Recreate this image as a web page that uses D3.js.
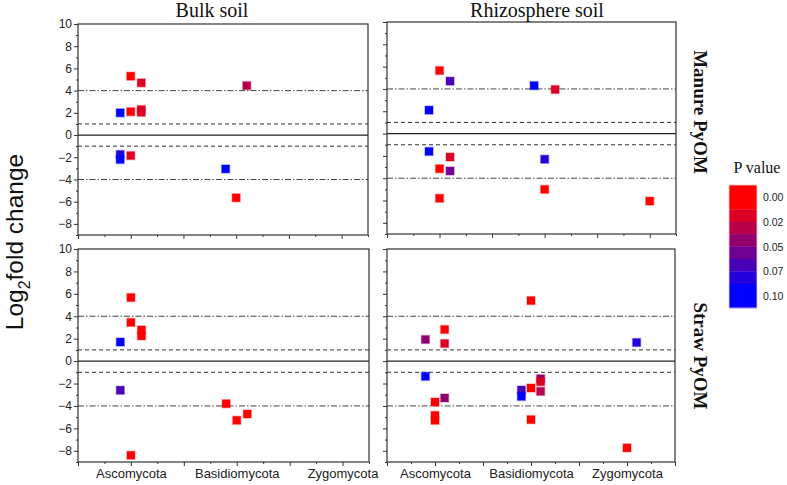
<!DOCTYPE html>
<html><head><meta charset="utf-8">
<script src="https://cdn.jsdelivr.net/npm/d3@7/dist/d3.min.js"></script>
<style>
body{margin:0;background:#fff;}
svg{display:block;}
</style></head>
<body>
<svg id="chart" width="787" height="485"></svg>
<script>
// ---------- DATA ----------
const categories = ["Ascomycota", "Basidiomycota", "Zygomycota"];
const soilTypes = ["Bulk soil", "Rhizosphere soil"];
const amendments = ["Manure PyOM", "Straw PyOM"];
const yMajorTicks = [10, 8, 6, 4, 2, 0, -2, -4, -6, -8];
const yMinorTicks = [9, 7, 5, 3, 1, -1, -3, -5, -7, -9];
const refDashed = [1, -1];
const refDashDot = [4, -4];
const pLegendLabels = ["0.00", "0.02", "0.05", "0.07", "0.10"];
const pColors = ["#ff0000", "#db0024", "#b60049", "#92006d", "#6d0092", "#4900b6", "#2400db", "#0000ff"];

// [category, subgroup (0,1,2), log2 fold change, P value]
const bulkManure = [
  ["Ascomycota", 0, 2.0, 0.1],
  ["Ascomycota", 0, -1.75, 0.085],
  ["Ascomycota", 0, -2.2, 0.1],
  ["Ascomycota", 1, 5.3, 0],
  ["Ascomycota", 1, 2.1, 0],
  ["Ascomycota", 1, -1.85, 0.015],
  ["Ascomycota", 2, 4.7, 0.015],
  ["Ascomycota", 2, 2.3, 0.015],
  ["Ascomycota", 2, 2.05, 0.015],
  ["Basidiomycota", 0, -3.05, 0.1],
  ["Basidiomycota", 1, -5.65, 0],
  ["Basidiomycota", 2, 4.45, 0.03]
];
const rhizoManure = [
  ["Ascomycota", 0, 2.1, 0.1],
  ["Ascomycota", 0, -1.6, 0.1],
  ["Ascomycota", 1, 5.65, 0],
  ["Ascomycota", 1, -3.15, 0],
  ["Ascomycota", 1, -5.8, 0],
  ["Ascomycota", 2, 4.7, 0.07],
  ["Ascomycota", 2, -2.1, 0.015],
  ["Ascomycota", 2, -3.35, 0.055],
  ["Basidiomycota", 0, 4.3, 0.1],
  ["Basidiomycota", 1, -2.3, 0.085],
  ["Basidiomycota", 1, -5.0, 0],
  ["Basidiomycota", 2, 3.95, 0.015],
  ["Zygomycota", 1, -6.05, 0]
];
const bulkStraw = [
  ["Ascomycota", 0, 1.7, 0.1],
  ["Ascomycota", 0, -2.6, 0.07],
  ["Ascomycota", 1, 5.67, 0],
  ["Ascomycota", 1, 3.45, 0],
  ["Ascomycota", 1, -8.4, 0],
  ["Ascomycota", 2, 2.78, 0],
  ["Ascomycota", 2, 2.25, 0],
  ["Basidiomycota", 0, -3.8, 0],
  ["Basidiomycota", 1, -5.28, 0],
  ["Basidiomycota", 2, -4.72, 0]
];
const rhizoStraw = [
  ["Ascomycota", 0, 1.93, 0.045],
  ["Ascomycota", 0, -1.36, 0.1],
  ["Ascomycota", 1, -3.65, 0],
  ["Ascomycota", 1, -4.84, 0],
  ["Ascomycota", 1, -5.28, 0],
  ["Ascomycota", 2, 2.82, 0],
  ["Ascomycota", 2, 1.57, 0.015],
  ["Ascomycota", 2, -3.29, 0.04],
  ["Basidiomycota", 0, -2.58, 0.07],
  ["Basidiomycota", 0, -3.15, 0.095],
  ["Basidiomycota", 1, 5.4, 0],
  ["Basidiomycota", 1, -2.4, 0],
  ["Basidiomycota", 1, -5.22, 0],
  ["Basidiomycota", 2, -1.57, 0.045],
  ["Basidiomycota", 2, -1.84, 0.015],
  ["Basidiomycota", 2, -2.70, 0.03],
  ["Zygomycota", 1, -7.74, 0],
  ["Zygomycota", 2, 1.66, 0.085]
];

// ---------- DRAW ----------
const svg = d3.select("#chart");
const sans = "'Liberation Sans', Arial, sans-serif";
const serif = "'Liberation Serif', 'Times New Roman', serif";
const color = d3.scaleQuantize().domain([0, 0.1]).range(pColors);

const panels = [
  {data: bulkManure, x0: 78, x1: 368, y0: 24, y1: 235, xMax: 5.5, yLab: true, xLab: false},
  {data: rhizoManure, x0: 387, x1: 676, y0: 22, y1: 234, xMax: 5.5, yLab: false, xLab: false},
  {data: bulkStraw, x0: 78, x1: 369, y0: 249, y1: 462, xMax: 5.5, yLab: true, xLab: true},
  {data: rhizoStraw, x0: 387, x1: 675, y0: 249, y1: 462, xMax: 6, yLab: false, xLab: true}
];

panels.forEach(p => {
  const x = d3.scaleLinear().domain([0, p.xMax]).range([p.x0, p.x1]);
  const y = d3.scaleLinear().domain([-9, 10]).range([p.y1, p.y0]);
  const g = svg.append("g");

  // reference lines
  g.selectAll(".dash").data(refDashed).join("line")
    .attr("x1", p.x0).attr("x2", p.x1).attr("y1", d => y(d)).attr("y2", d => y(d))
    .attr("stroke", "#333").attr("stroke-width", 1).attr("stroke-dasharray", "4,3");
  g.selectAll(".dashdot").data(refDashDot).join("line")
    .attr("x1", p.x0).attr("x2", p.x1).attr("y1", d => y(d)).attr("y2", d => y(d))
    .attr("stroke", "#444").attr("stroke-width", 1).attr("stroke-dasharray", "6,2,1.5,2");
  g.append("line").attr("x1", p.x0).attr("x2", p.x1).attr("y1", y(0)).attr("y2", y(0))
    .attr("stroke", "#222").attr("stroke-width", 1.3);

  // y axis
  const yMaj = d3.axisLeft(y).tickValues(yMajorTicks).tickSize(4).tickPadding(2)
    .tickFormat(p.yLab ? d3.format("d") : () => "");
  const ya = g.append("g").attr("transform", `translate(${p.x0},0)`).call(yMaj);
  const yMin = d3.axisLeft(y).tickValues(yMinorTicks).tickSize(2).tickFormat(() => "");
  const ym = g.append("g").attr("transform", `translate(${p.x0},0)`).call(yMin);

  // x axis
  const xInts = d3.range(0, Math.floor(p.xMax) + 1);
  const xHalves = d3.range(0.5, p.xMax + 0.01, 1);
  const xMaj = d3.axisBottom(x).tickValues(xInts).tickSize(4).tickPadding(3)
    .tickFormat(d => (p.xLab && d % 2 === 1) ? categories[(d - 1) / 2] : "");
  const xa = g.append("g").attr("transform", `translate(0,${p.y1})`).call(xMaj);
  const xMin = d3.axisBottom(x).tickValues(xHalves).tickSize(2).tickFormat(() => "");
  const xm = g.append("g").attr("transform", `translate(0,${p.y1})`).call(xMin);

  [ya, ym, xa, xm].forEach(a => {
    a.select(".domain").remove();
    a.selectAll("line").attr("stroke", "#333");
  });
  ya.selectAll("text").attr("font-family", sans).attr("font-size", 12).attr("fill", "#222");
  xa.selectAll("text").attr("font-family", sans).attr("font-size", 13).attr("fill", "#222");

  // frame
  g.append("rect").attr("x", p.x0).attr("y", p.y0)
    .attr("width", p.x1 - p.x0).attr("height", p.y1 - p.y0)
    .attr("fill", "none").attr("stroke", "#333").attr("stroke-width", 1.2);

  // points
  const s = 8;
  g.selectAll(".pt").data(p.data).join("rect")
    .attr("x", d => x(categories.indexOf(d[0]) * 2 + 1 + (d[1] - 1) * 0.2) - s / 2)
    .attr("y", d => y(d[2]) - s / 2)
    .attr("width", s).attr("height", s)
    .attr("fill", d => color(d[3]))
    .attr("stroke", d => color(d[3])).attr("stroke-opacity", 0.3).attr("stroke-width", 1.5);
});

// column titles
svg.selectAll(".coltitle").data(soilTypes).join("text")
  .attr("x", (d, i) => i === 0 ? 212 : 537).attr("y", 17)
  .attr("text-anchor", "middle").attr("font-family", serif).attr("font-size", 20)
  .attr("fill", "#111").text(d => d);

// row titles (rotated)
svg.selectAll(".rowtitle").data(amendments).join("text")
  .attr("transform", (d, i) => `translate(700,${i === 0 ? 112 : 356}) rotate(90)`)
  .attr("text-anchor", "middle").attr("dominant-baseline", "central")
  .attr("font-family", serif).attr("font-weight", "bold").attr("font-size", 19)
  .attr("fill", "#111").text(d => d);

// y axis title
const yt = svg.append("text")
  .attr("transform", "translate(23,242) rotate(-90)")
  .attr("text-anchor", "middle").attr("font-family", sans).attr("font-size", 24.5).attr("fill", "#111");
yt.append("tspan").text("Log");
yt.append("tspan").attr("font-size", 16).attr("dy", 7).text("2");
yt.append("tspan").attr("dy", -7).text("fold change");

// legend
const lg = svg.append("g");
lg.append("text").attr("x", 757).attr("y", 173).attr("text-anchor", "middle")
  .attr("font-family", serif).attr("font-size", 16).attr("fill", "#111").text("P value");
const legTop = 185, legBot = 308, endH = 24.3;
const bandH = (legBot - legTop - 2 * endH) / (pColors.length - 2);
const bandY = i => i === 0 ? legTop : legTop + endH + (i - 1) * bandH;
const bandHt = i => (i === 0 || i === pColors.length - 1) ? endH : bandH;
lg.selectAll(".band").data(pColors).join("rect")
  .attr("x", 729).attr("width", 28)
  .attr("y", (d, i) => bandY(i)).attr("height", (d, i) => bandHt(i) + 0.3)
  .attr("fill", d => d);
lg.append("rect").attr("x", 729).attr("y", legTop).attr("width", 28).attr("height", legBot - legTop)
  .attr("fill", "none").attr("stroke", "#f3d0d0").attr("stroke-width", 0.8);
const labelYs = [legTop + endH / 2, legTop + endH + bandH, legTop + endH + 3 * bandH,
  legTop + endH + 5 * bandH, legBot - endH / 2];
lg.selectAll(".lab").data(pLegendLabels).join("text")
  .attr("x", 763).attr("y", (d, i) => labelYs[i]).attr("dominant-baseline", "central")
  .attr("font-family", sans).attr("font-size", 10.5).attr("fill", "#222").text(d => d);
</script>
</body></html>
